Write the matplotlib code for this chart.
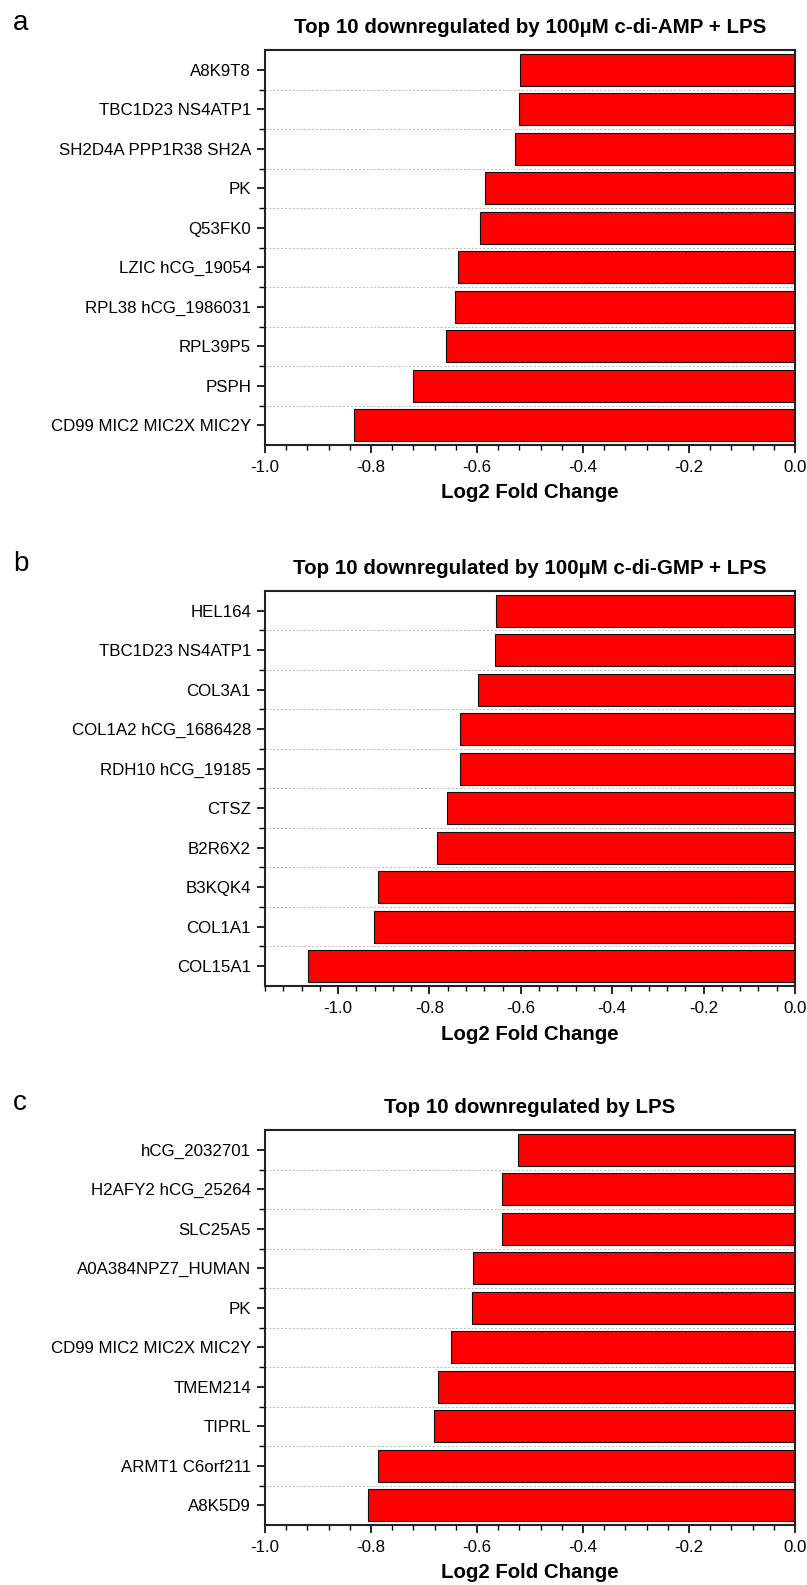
import matplotlib
matplotlib.use("Agg")
import matplotlib.pyplot as plt
from matplotlib.ticker import MultipleLocator, FixedLocator
import numpy as np

plt.rcParams['font.family'] = ['Liberation Sans', 'DejaVu Sans']

# panel a
genes_a = ["A8K9T8", "TBC1D23 NS4ATP1", "SH2D4A PPP1R38 SH2A", "PK", "Q53FK0",
           "LZIC hCG_19054", "RPL38 hCG_1986031", "RPL39P5", "PSPH",
           "CD99 MIC2 MIC2X MIC2Y"]
fc_a = [-0.519, -0.521, -0.528, -0.585, -0.594, -0.636, -0.642, -0.659, -0.721, -0.832]

# panel b
genes_b = ["HEL164", "TBC1D23 NS4ATP1", "COL3A1", "COL1A2 hCG_1686428",
           "RDH10 hCG_19185", "CTSZ", "B2R6X2", "B3KQK4", "COL1A1", "COL15A1"]
fc_b = [-0.655, -0.657, -0.693, -0.733, -0.733, -0.761, -0.784, -0.912, -0.921, -1.065]

# panel c
genes_c = ["hCG_2032701", "H2AFY2 hCG_25264", "SLC25A5", "A0A384NPZ7_HUMAN", "PK",
           "CD99 MIC2 MIC2X MIC2Y", "TMEM214", "TIPRL", "ARMT1 C6orf211", "A8K5D9"]
fc_c = [-0.522, -0.552, -0.552, -0.607, -0.610, -0.649, -0.673, -0.681, -0.787, -0.806]

titles = ["Top 10 downregulated by 100\u00b5M c-di-AMP + LPS",
          "Top 10 downregulated by 100\u00b5M c-di-GMP + LPS",
          "Top 10 downregulated by LPS"]
letters = ["a", "b", "c"]
xmins = [-1.0, -1.16, -1.0]

W, H = 807, 1585
fig = plt.figure(figsize=(W / 100, H / 100), dpi=100)

tops = [50, 591, 1130]
ax_h = 395
left, right = 265, 795

for genes, fc, title, letter, xmin, top in zip([genes_a, genes_b, genes_c],
                                               [fc_a, fc_b, fc_c], titles, letters,
                                               xmins, tops):
    ax = fig.add_axes([left / W, 1 - (top + ax_h) / H, (right - left) / W, ax_h / H])
    y = np.arange(len(genes))
    ax.barh(y, fc, height=0.8, color="#ff0000", edgecolor="#111111", linewidth=0.8,
            zorder=3)
    ax.set_ylim(len(genes) - 0.5, -0.5)
    ax.set_xlim(xmin, 0)
    ax.set_yticks(y)
    ax.set_yticklabels(genes, fontsize=12.2)
    ax.yaxis.set_minor_locator(FixedLocator(np.arange(0.5, len(genes) - 1, 1)))
    ax.xaxis.set_major_locator(MultipleLocator(0.2))
    ax.xaxis.set_minor_locator(MultipleLocator(0.04))
    ax.tick_params(axis="x", which="major", length=6, width=1.2, pad=5, labelsize=12.2,
                   direction="out")
    ax.tick_params(axis="x", which="minor", length=3.5, width=1.0, direction="out")
    ax.tick_params(axis="y", which="major", length=6, width=1.2, pad=4, direction="out")
    ax.tick_params(axis="y", which="minor", length=4, width=1.0, direction="out")
    ax.grid(axis="y", which="minor", color="#b8b8b8", linestyle=(0, (2, 2)),
            linewidth=0.7, zorder=1)
    for s in ax.spines.values():
        s.set_linewidth(1.5)
        s.set_color("#222222")
        s.set_zorder(4)
    ax.xaxis.set_major_formatter(matplotlib.ticker.FormatStrFormatter("%.1f"))
    ax.set_title(title, fontsize=14.8, fontweight="bold", pad=12)
    ax.set_xlabel("Log2 Fold Change", fontsize=14.7, fontweight="bold", va="center")
    ax.xaxis.set_label_coords(0.5, -48 / ax_h)
    fig.text(13 / W, 1 - (top - 20) / H, letter, fontsize=20, va="baseline",
             ha="left")

fig.savefig("out.png", dpi=100)
